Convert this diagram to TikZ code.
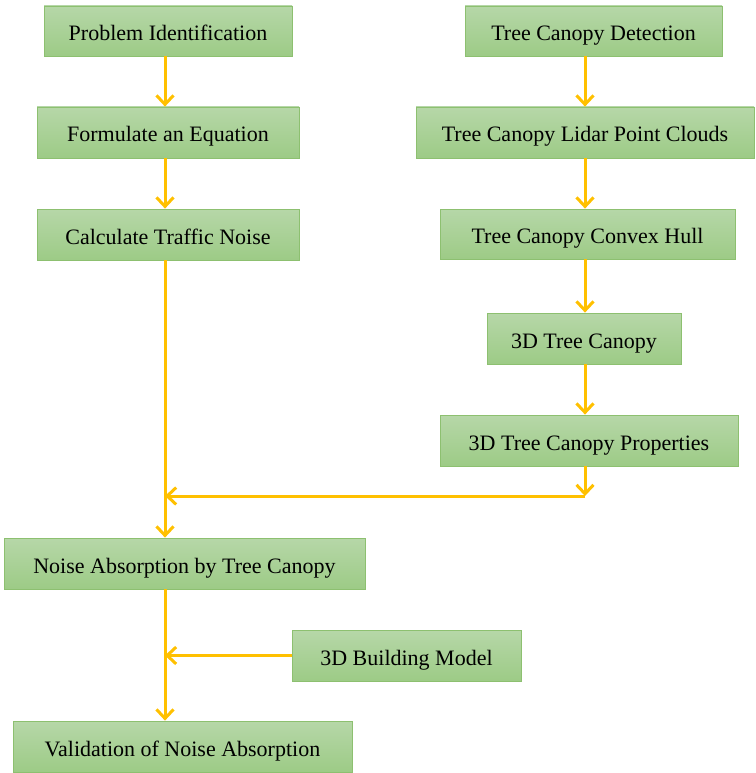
\documentclass[tikz,border=0pt]{standalone}
\usepackage{fontspec}
\setmainfont{Liberation Serif}
\usetikzlibrary{arrows.meta}
\definecolor{boxtop}{HTML}{B6D7A8}
\definecolor{boxbot}{HTML}{9DCB86}
\definecolor{boxline}{HTML}{8DC070}
\definecolor{arr}{HTML}{FFC000}
\begin{document}
\begin{tikzpicture}[x=1pt,y=-1pt,
  box/.style={draw=boxline,line width=0.8pt,top color=boxtop,bottom color=boxbot,
    font=\fontsize{22}{25}\selectfont,text=black,text height=21pt,text depth=2pt},
  flow/.style={draw=arr,line width=3pt,-{Straight Barb[length=9pt,width=17pt,line width=3pt]}}]
\useasboundingbox (0,0) rectangle (755,773);
\newcommand{\mybox}[6]{\node[box,minimum width={#4-#2},minimum height={#5-#3},inner sep=0pt] (#1) at ({(#2+#4)/2},{(#3+#5)/2}) {#6};}
\mybox{pi}{44}{6}{292}{56}{Problem Identification}
\mybox{fe}{37}{107}{299}{158}{Formulate an Equation}
\mybox{ct}{37}{209}{299}{260}{Calculate Traffic Noise}
\mybox{td}{465}{6}{722}{56}{Tree Canopy Detection}
\mybox{tl}{416}{107}{754}{158}{Tree Canopy Lidar Point Clouds}
\mybox{tc}{440}{209}{735}{259}{Tree Canopy Convex Hull}
\mybox{t3}{487}{313}{681}{364}{3D Tree Canopy}
\mybox{tp}{440}{415}{738}{466}{3D Tree Canopy Properties}
\mybox{na}{4}{538}{365}{589}{Noise Absorption by Tree Canopy}
\mybox{bm}{292}{630}{521}{681}{3D Building Model}
\mybox{vn}{13}{721}{352}{772}{Validation of Noise Absorption}
\coordinate (j1) at (585,496);
\coordinate (j1l) at (165,496);
\coordinate (j2) at (bm.west -| 165,0);
\draw[flow] (pi.south -| 165,0) -- (fe.north -| 165,0);
\draw[flow] (fe.south -| 165,0) -- (ct.north -| 165,0);
\draw[flow] (ct.south -| 165,0) -- (na.north -| 165,0);
\draw[flow] (td.south -| 585,0) -- (tl.north -| 585,0);
\draw[flow] (tl.south -| 585,0) -- (tc.north -| 585,0);
\draw[flow] (tc.south -| 585,0) -- (t3.north -| 585,0);
\draw[flow] (t3.south -| 585,0) -- (tp.north -| 585,0);
\draw[flow] (tp.south -| 585,0) -- (j1);
\draw[flow] (j1) -- (j1l);
\draw[flow] (na.south -| 165,0) -- (vn.north -| 165,0);
\draw[flow] (bm.west) -- (j2);
\end{tikzpicture}
\end{document}
